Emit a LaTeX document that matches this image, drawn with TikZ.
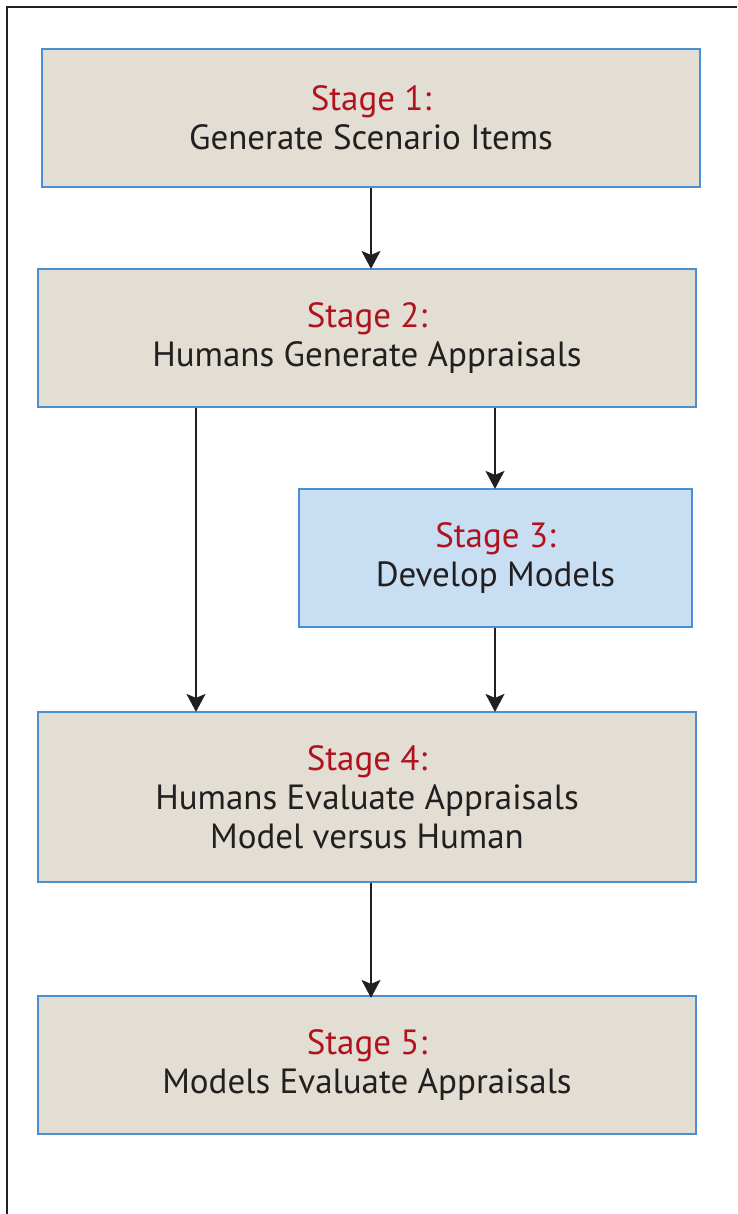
\documentclass[tikz,border=0pt]{standalone}
\usepackage{fontspec}
\setmainfont{PT Sans}
\usetikzlibrary{arrows.meta}
\definecolor{boxfill}{HTML}{E3DED3}
\definecolor{boxblue}{HTML}{4A8FD1}
\definecolor{lightblue}{HTML}{C8DFF3}
\definecolor{stagered}{HTML}{B0121E}
\definecolor{txt}{HTML}{231F20}
\begin{document}
\begin{tikzpicture}[x=1pt,y=-1pt,
  stagebox/.style={draw=boxblue, line width=2.2pt, fill=boxfill, minimum width=658pt, minimum height=138pt, inner sep=0pt, align=center, text=txt, font=\fontsize{35}{39}\selectfont},
  arr/.style={draw=txt, line width=1.6pt, -{Stealth[length=18pt,width=19pt,inset=4pt]}}]
\useasboundingbox (0,0) rectangle (737,1214);
\draw[line width=2pt, draw=txt] (6.5,1214) -- (6.5,7.5) -- (737,7.5);
\node[stagebox] (s1) at (371,118) {\textcolor{stagered}{Stage 1:}\\Generate Scenario Items};
\node[stagebox] (s2) at (367,338) {\textcolor{stagered}{Stage 2:}\\Humans Generate Appraisals};
\node[stagebox, fill=lightblue, minimum width=393pt] (s3) at (495.5,558) {\textcolor{stagered}{Stage 3:}\\Develop Models};
\node[stagebox, minimum height=170pt] (s4) at (367,797) {\textcolor{stagered}{Stage 4:}\\Humans Evaluate Appraisals\\Model versus Human};
\node[stagebox] (s5) at (367,1065) {\textcolor{stagered}{Stage 5:}\\Models Evaluate Appraisals};
\coordinate (lx) at (196,0);
\coordinate (rx) at (495,0);
\coordinate (cx) at (371,0);
\draw[arr] (s1.south -| cx) -- ([yshift=-1pt]s2.north -| cx);
\draw[arr] (s2.south -| lx) -- ([yshift=-1pt]s4.north -| lx);
\draw[arr] (s2.south -| rx) -- ([yshift=-1pt]s3.north -| rx);
\draw[arr] (s3.south -| rx) -- ([yshift=-1pt]s4.north -| rx);
\draw[arr] (s4.south -| cx) -- ([yshift=-3pt]s5.north -| cx);
\end{tikzpicture}
\end{document}
